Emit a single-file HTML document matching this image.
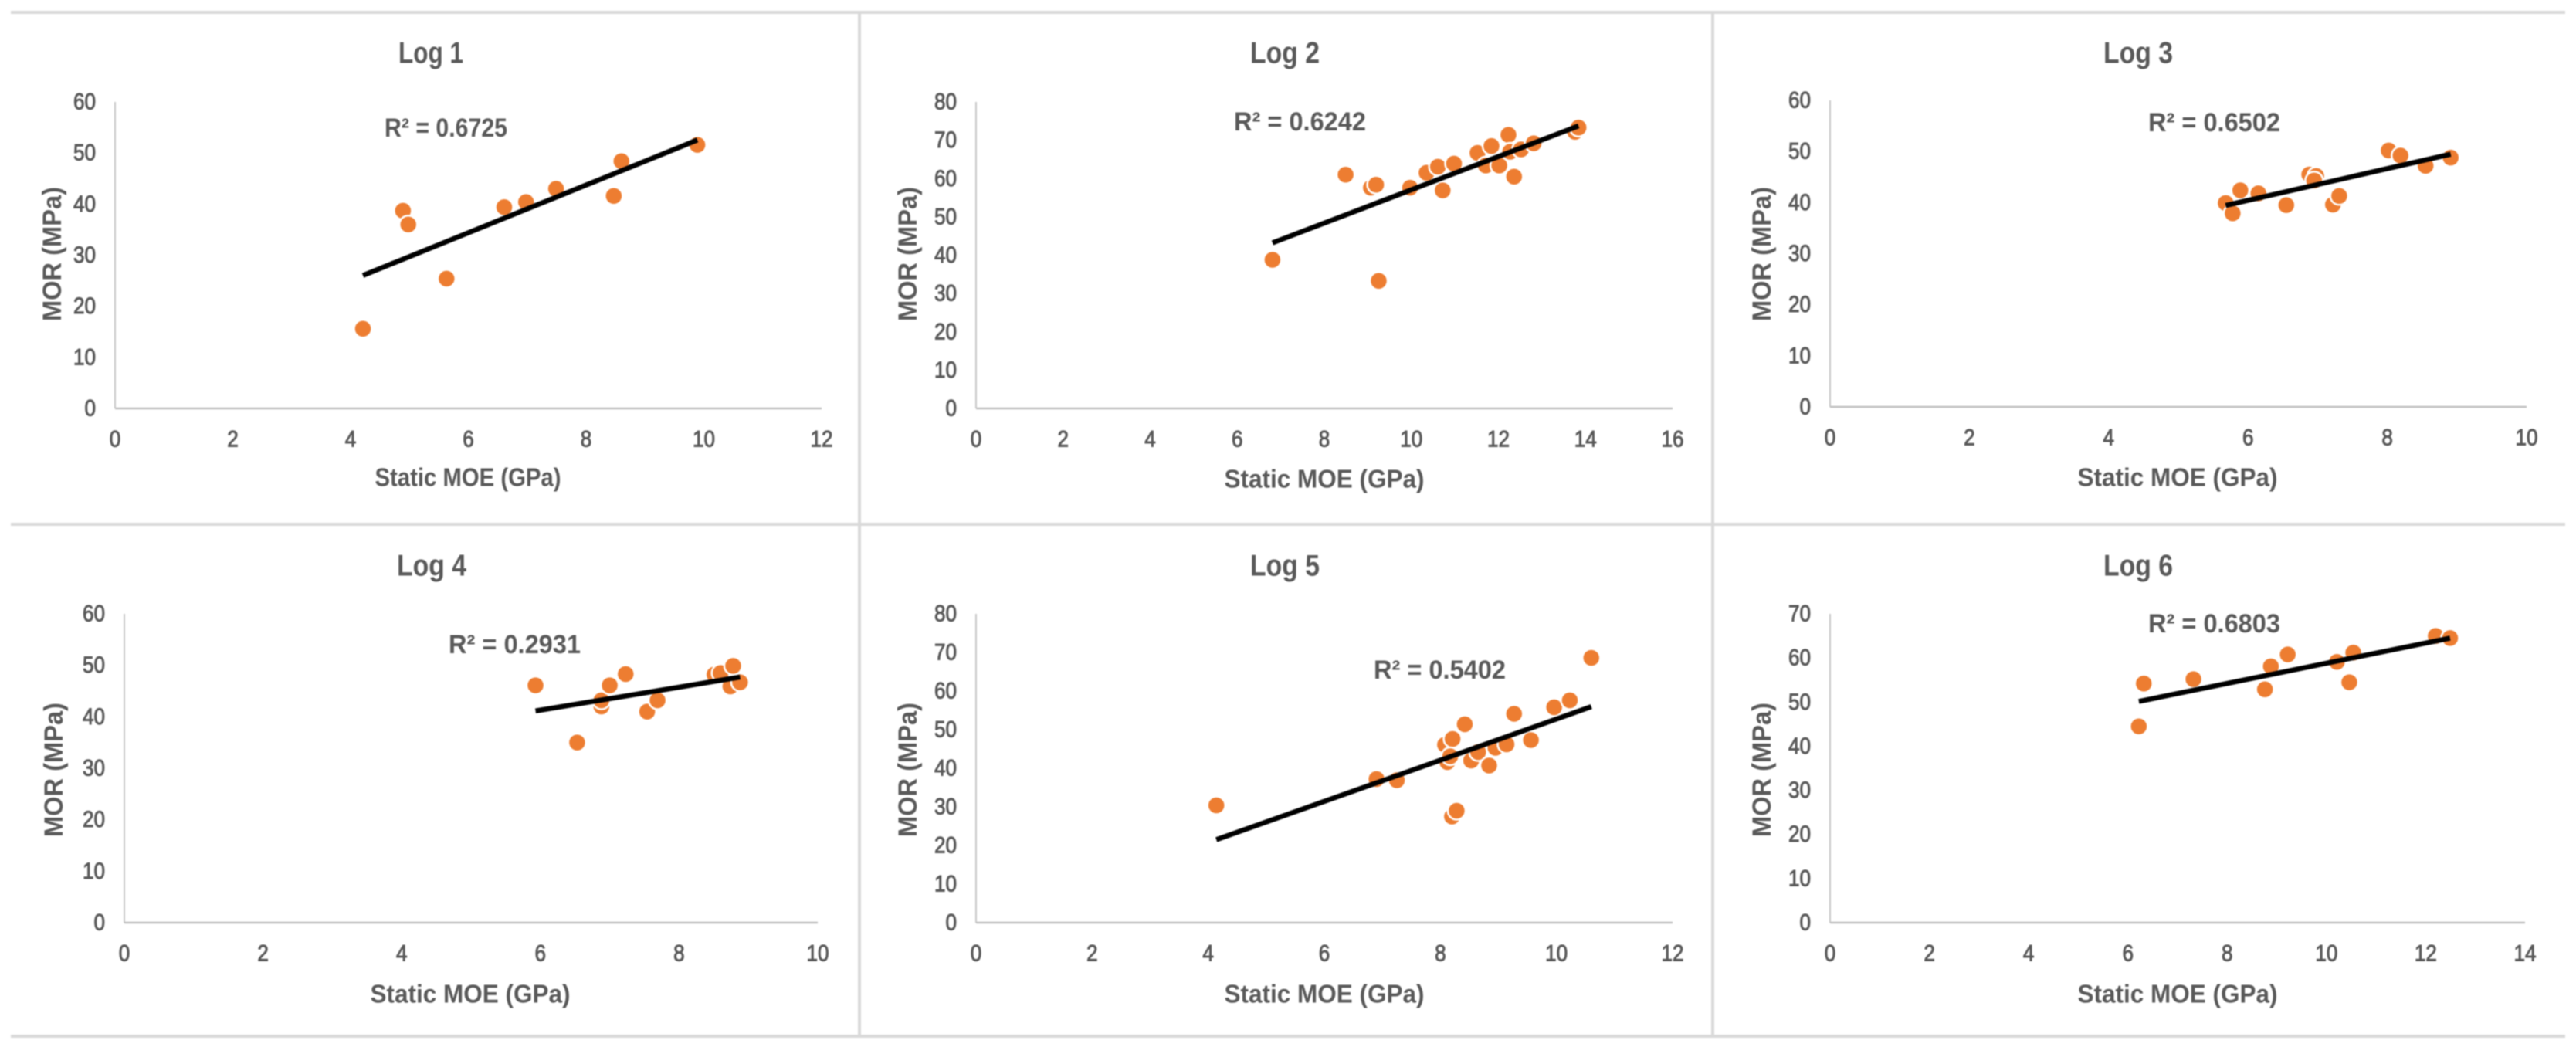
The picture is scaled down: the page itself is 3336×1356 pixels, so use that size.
<!DOCTYPE html>
<html lang="en">
<head>
<meta charset="utf-8">
<title>Static MOE vs MOR by log</title>
<style>
html,body{margin:0;padding:0;background:#fff;}
#figure{display:block;width:3336px;height:1356px;font-family:"Liberation Sans",sans-serif;filter:blur(0.8px);}
</style>
</head>
<body>
<svg id="figure" xmlns="http://www.w3.org/2000/svg" width="3336" height="1356" viewBox="0 0 3336 1356">
<rect x="0" y="0" width="3336" height="1356" fill="#ffffff"/>
<g stroke="#d9d9d9" stroke-width="4">
<line x1="14" y1="16" x2="3322" y2="16"/>
<line x1="14" y1="679" x2="3322" y2="679"/>
<line x1="14" y1="1342" x2="3322" y2="1342"/>
<line x1="1113" y1="16" x2="1113" y2="1342"/>
<line x1="2218" y1="16" x2="2218" y2="1342"/>
</g>
</svg>
<script>
// ---------- Log 1 ----------
const log1Title = "Log 1";
const log1R2 = "R² = 0.6725";
const log1XTicks = [0, 2, 4, 6, 8, 10, 12];
const log1YTicks = [0, 10, 20, 30, 40, 50, 60];
const log1Moe = [4.21, 4.89, 4.98, 5.63, 6.61, 6.98, 7.49, 8.47, 8.60, 9.89];
const log1Mor = [15.6, 38.7, 36.0, 25.4, 39.4, 40.4, 43.0, 41.6, 48.4, 51.6];

// ---------- Log 2 ----------
const log2Title = "Log 2";
const log2R2 = "R² = 0.6242";
const log2XTicks = [0, 2, 4, 6, 8, 10, 12, 14, 16];
const log2YTicks = [0, 10, 20, 30, 40, 50, 60, 70, 80];
const log2Moe = [6.81, 8.49, 9.07, 9.19, 9.25, 9.97, 10.35, 10.61, 10.72, 10.98, 11.52, 11.71, 11.84, 12.02, 12.23, 12.27, 12.36, 12.52, 12.81, 13.76, 13.84];
const log2Mor = [38.8, 61.0, 57.6, 58.4, 33.3, 57.6, 61.5, 63.1, 56.9, 63.9, 66.7, 63.4, 68.5, 63.4, 71.4, 67.0, 60.5, 67.6, 69.2, 72.2, 73.3];

// ---------- Log 3 ----------
const log3Title = "Log 3";
const log3R2 = "R² = 0.6502";
const log3XTicks = [0, 2, 4, 6, 8, 10];
const log3YTicks = [0, 10, 20, 30, 40, 50, 60];
const log3Moe = [5.68, 5.78, 5.89, 6.15, 6.55, 6.88, 6.98, 6.95, 7.22, 7.31, 8.02, 8.19, 8.55, 8.91];
const log3Mor = [39.9, 37.9, 42.4, 41.8, 39.5, 45.5, 45.2, 44.3, 39.6, 41.3, 50.2, 49.2, 47.2, 48.8];

// ---------- Log 4 ----------
const log4Title = "Log 4";
const log4R2 = "R² = 0.2931";
const log4XTicks = [0, 2, 4, 6, 8, 10];
const log4YTicks = [0, 10, 20, 30, 40, 50, 60];
const log4Moe = [5.93, 6.53, 6.88, 6.88, 7.00, 7.23, 7.54, 7.69, 8.51, 8.60, 8.78, 8.74, 8.88];
const log4Mor = [46.1, 35.0, 42.0, 43.2, 46.1, 48.3, 41.0, 43.2, 48.2, 48.5, 49.9, 45.9, 46.7];

// ---------- Log 5 ----------
const log5Title = "Log 5";
const log5R2 = "R² = 0.5402";
const log5XTicks = [0, 2, 4, 6, 8, 10, 12];
const log5YTicks = [0, 10, 20, 30, 40, 50, 60, 70, 80];
const log5Moe = [4.14, 6.90, 7.25, 8.08, 8.21, 8.12, 8.17, 8.20, 8.28, 8.42, 8.53, 8.65, 8.84, 8.95, 9.14, 9.27, 9.56, 9.96, 10.23, 10.60];
const log5Mor = [30.4, 37.2, 36.9, 46.1, 47.6, 41.6, 43.1, 27.5, 29.0, 51.4, 42.0, 44.2, 40.7, 45.3, 46.2, 54.1, 47.3, 55.8, 57.6, 68.6];

// ---------- Log 6 ----------
const log6Title = "Log 6";
const log6R2 = "R² = 0.6803";
const log6XTicks = [0, 2, 4, 6, 8, 10, 12, 14];
const log6YTicks = [0, 10, 20, 30, 40, 50, 60, 70];
const log6Moe = [6.22, 6.32, 7.32, 8.76, 8.88, 9.22, 10.21, 10.46, 10.54, 12.20, 12.49];
const log6Mor = [44.5, 54.2, 55.2, 52.9, 58.1, 60.8, 59.1, 54.5, 61.2, 65.0, 64.5];

const xAxisTitle = "Static MOE (GPa)";
const yAxisTitle = "MOR (MPa)";

const svgNS = "http://www.w3.org/2000/svg";
const figure = document.getElementById("figure");

function svgEl(parent, tag, attrs) {
  const el = document.createElementNS(svgNS, tag);
  for (const k in attrs) el.setAttribute(k, attrs[k]);
  parent.appendChild(el);
  return el;
}

function fitLine(xs, ys) {
  const n = xs.length;
  const mx = xs.reduce((a, b) => a + b, 0) / n;
  const my = ys.reduce((a, b) => a + b, 0) / n;
  let sxy = 0, sxx = 0;
  xs.forEach((x, i) => { sxy += (x - mx) * (ys[i] - my); sxx += (x - mx) * (x - mx); });
  const slope = sxy / sxx;
  return x => my + slope * (x - mx);
}

function drawPanel(d, f) {
  const xMax = d.xTicks[d.xTicks.length - 1];
  const yMax = d.yTicks[d.yTicks.length - 1];
  const xScale = v => f.x0 + (v / xMax) * (f.x1 - f.x0);
  const yScale = v => f.y0 - (v / yMax) * (f.y0 - f.y1);

  const g = svgEl(figure, "g", {});
  
  

  const title = svgEl(g, "text", {x: f.titleX, y: f.titleY, "text-anchor": "middle", "dominant-baseline": "central", "font-size": 39, "font-weight": "bold", fill: "#595959", textLength: f.titleW, lengthAdjust: "spacingAndGlyphs"});
  
  
  title.textContent = d.title;

  const yAxis = svgEl(g, "line", {x1: f.x0, y1: f.y1, x2: f.x0, y2: f.y0, stroke: "#c8c8c8", "stroke-width": 2});
  
  

  const xAxis = svgEl(g, "line", {x1: f.x0, y1: f.y0, x2: f.x1, y2: f.y0, stroke: "#bfbfbf", "stroke-width": 2.5});
  
  

  d.yTicks.forEach(t => {
    const lab = svgEl(g, "text", {x: f.x0 - 25, y: yScale(t), "text-anchor": "end", "dominant-baseline": "central", "font-size": 30, fill: "#595959", stroke: "#595959", "stroke-width": 1, textLength: String(t).length * 14.5, lengthAdjust: "spacingAndGlyphs"});
    
    
    lab.textContent = t;
  });

  d.xTicks.forEach(t => {
    const lab = svgEl(g, "text", {x: xScale(t), y: f.y0 + 40, "text-anchor": "middle", "dominant-baseline": "central", "font-size": 30, fill: "#595959", stroke: "#595959", "stroke-width": 1, textLength: String(t).length * 14.5, lengthAdjust: "spacingAndGlyphs"});
    
    
    lab.textContent = t;
  });

  const xt = svgEl(g, "text", {x: f.xTitleX, y: f.xTitleY, "text-anchor": "middle", "dominant-baseline": "central", "font-size": 33, "font-weight": "bold", fill: "#595959", textLength: f.xTitleW, lengthAdjust: "spacingAndGlyphs"});
  
  
  xt.textContent = xAxisTitle;

  const yt = svgEl(g, "text", {transform: "translate(" + f.yTitleX + "," + f.yTitleY + ") rotate(-90)", "text-anchor": "middle", "dominant-baseline": "central", "font-size": 34, "font-weight": "bold", fill: "#595959", textLength: 174, lengthAdjust: "spacingAndGlyphs"});
  
  
  yt.textContent = yAxisTitle;

  d.moe.forEach((v, i) => {
    const pt = svgEl(g, "circle", {cx: xScale(v), cy: yScale(d.mor[i]), r: 11.5, fill: "#ed7d31", stroke: "#ffffff", "stroke-width": 2.5});
    
    
  });

  const fit = fitLine(d.moe, d.mor);
  const xLo = Math.min.apply(null, d.moe);
  const xHi = Math.max.apply(null, d.moe);
  const trend = svgEl(g, "line", {x1: xScale(xLo), y1: yScale(fit(xLo)), x2: xScale(xHi), y2: yScale(fit(xHi)), stroke: "#000000", "stroke-width": 6.5});
  
  

  const r2 = svgEl(g, "text", {x: f.r2X, y: f.r2Y, "dominant-baseline": "central", "font-size": 34, "font-weight": "bold", fill: "#595959", textLength: f.r2W, lengthAdjust: "spacingAndGlyphs"});
  
  
  r2.textContent = d.r2;
}

drawPanel(
  {slug: "log-1", title: log1Title, r2: log1R2, xTicks: log1XTicks, yTicks: log1YTicks, moe: log1Moe, mor: log1Mor},
  {x0: 149, x1: 1064, y0: 529, y1: 132, titleX: 558, titleY: 69, titleW: 84, xTitleX: 606, xTitleY: 618, xTitleW: 241, yTitleX: 68, yTitleY: 329, r2X: 498, r2Y: 166, r2W: 159}
);
drawPanel(
  {slug: "log-2", title: log2Title, r2: log2R2, xTicks: log2XTicks, yTicks: log2YTicks, moe: log2Moe, mor: log2Mor},
  {x0: 1264, x1: 2166, y0: 529, y1: 132, titleX: 1664, titleY: 69, titleW: 90, xTitleX: 1715, xTitleY: 620, xTitleW: 259, yTitleX: 1176, yTitleY: 329, r2X: 1598, r2Y: 158, r2W: 171}
);
drawPanel(
  {slug: "log-3", title: log3Title, r2: log3R2, xTicks: log3XTicks, yTicks: log3YTicks, moe: log3Moe, mor: log3Mor},
  {x0: 2370, x1: 3272, y0: 527, y1: 130, titleX: 2769, titleY: 69, titleW: 90, xTitleX: 2820, xTitleY: 618, xTitleW: 259, yTitleX: 2282, yTitleY: 329, r2X: 2782, r2Y: 159, r2W: 171}
);
drawPanel(
  {slug: "log-4", title: log4Title, r2: log4R2, xTicks: log4XTicks, yTicks: log4YTicks, moe: log4Moe, mor: log4Mor},
  {x0: 161, x1: 1059, y0: 1195, y1: 795, titleX: 559, titleY: 733, titleW: 90, xTitleX: 609, xTitleY: 1287, xTitleW: 259, yTitleX: 70, yTitleY: 997, r2X: 581, r2Y: 835, r2W: 171}
);
drawPanel(
  {slug: "log-5", title: log5Title, r2: log5R2, xTicks: log5XTicks, yTicks: log5YTicks, moe: log5Moe, mor: log5Mor},
  {x0: 1264, x1: 2166, y0: 1195, y1: 795, titleX: 1664, titleY: 733, titleW: 90, xTitleX: 1715, xTitleY: 1287, xTitleW: 259, yTitleX: 1176, yTitleY: 997, r2X: 1779, r2Y: 868, r2W: 171}
);
drawPanel(
  {slug: "log-6", title: log6Title, r2: log6R2, xTicks: log6XTicks, yTicks: log6YTicks, moe: log6Moe, mor: log6Mor},
  {x0: 2370, x1: 3270, y0: 1195, y1: 795, titleX: 2769, titleY: 733, titleW: 90, xTitleX: 2820, xTitleY: 1287, xTitleW: 259, yTitleX: 2282, yTitleY: 997, r2X: 2782, r2Y: 808, r2W: 171}
);
</script>
</body>
</html>
